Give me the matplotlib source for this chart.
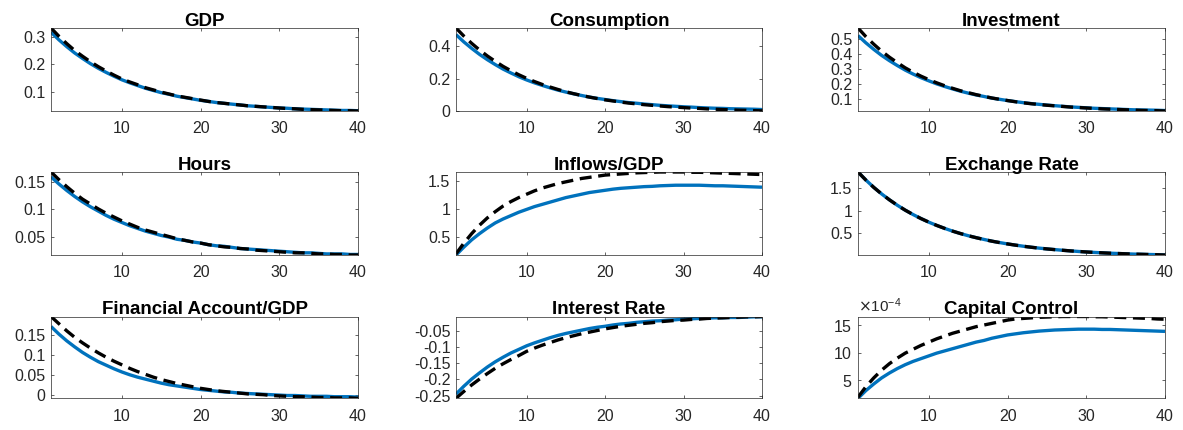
import matplotlib
matplotlib.use("Agg")
import matplotlib.pyplot as plt
from matplotlib.ticker import FuncFormatter, ScalarFormatter

plt.rcParams["font.family"] = ["Liberation Sans", "DejaVu Sans"]
plt.rcParams["axes.unicode_minus"] = False

# Impulse responses, periods 1..40
periods = list(range(1, 41))

gdp_opt = [.318, .290, .265, .242, .222, .203, .186, .171, .157, .144,
           .133, .123, .113, .105, .097, .091, .084, .079, .074, .069,
           .065, .061, .058, .055, .052, .049, .047, .045, .043, .041,
           .040, .038, .037, .036, .035, .034, .033, .032, .032, .031]
gdp_alt = [.333, .303, .276, .251, .230, .210, .192, .176, .161, .147,
           .136, .126, .115, .107, .099, .092, .085, .080, .075, .070,
           .065, .061, .058, .055, .052, .049, .047, .045, .043, .041,
           .039, .038, .036, .035, .034, .033, .032, .031, .031, .030]

cons_opt = [.472, .427, .387, .350, .317, .287, .259, .235, .212, .192,
            .174, .158, .143, .129, .117, .106, .096, .086, .078, .071,
            .064, .058, .052, .048, .043, .039, .035, .032, .029, .026,
            .024, .021, .019, .017, .016, .014, .013, .012, .011, .009]
cons_alt = [.513, .463, .418, .377, .340, .307, .276, .249, .224, .202,
            .182, .164, .148, .133, .119, .107, .096, .086, .077, .069,
            .062, .055, .049, .044, .039, .035, .031, .027, .024, .021,
            .018, .016, .013, .011, .009, .007, .005, .004, .002, .001]

inv_opt = [.520, .472, .429, .389, .354, .322, .292, .266, .242, .221,
           .201, .184, .168, .153, .140, .128, .118, .107, .099, .091,
           .084, .077, .071, .066, .061, .057, .053, .049, .046, .043,
           .040, .038, .036, .034, .032, .030, .029, .028, .027, .025]
inv_alt = [.570, .513, .463, .417, .377, .341, .307, .278, .252, .229,
           .208, .189, .172, .156, .143, .130, .119, .108, .099, .091,
           .083, .076, .070, .065, .060, .056, .052, .048, .045, .042,
           .039, .036, .034, .032, .030, .028, .026, .025, .024, .022]

hours_opt = [.160, .147, .135, .124, .114, .105, .097, .089, .082, .076,
             .070, .065, .060, .056, .052, .049, .045, .043, .040, .038,
             .035, .033, .032, .030, .028, .027, .026, .025, .024, .023,
             .022, .021, .020, .020, .019, .018, .018, .018, .017, .017]
hours_alt = [.169, .155, .142, .130, .119, .110, .101, .093, .086, .079,
             .073, .067, .062, .058, .054, .050, .046, .043, .040, .038,
             .035, .033, .031, .030, .028, .027, .025, .024, .023, .022,
             .021, .020, .020, .019, .018, .018, .017, .017, .016, .016]

inflows_opt = [.18, .32, .45, .56, .66, .75, .82, .88, .94, .99,
               1.04, 1.08, 1.12, 1.16, 1.20, 1.23, 1.26, 1.29, 1.31, 1.33,
               1.35, 1.365, 1.375, 1.385, 1.395, 1.40, 1.41, 1.415, 1.42, 1.42,
               1.42, 1.42, 1.415, 1.41, 1.41, 1.405, 1.40, 1.395, 1.39, 1.385]
inflows_alt = [.20, .39, .56, .71, .84, .95, 1.05, 1.13, 1.20, 1.26,
               1.32, 1.37, 1.41, 1.45, 1.48, 1.51, 1.54, 1.56, 1.58, 1.60,
               1.61, 1.62, 1.63, 1.64, 1.645, 1.65, 1.655, 1.655, 1.655, 1.655,
               1.65, 1.65, 1.645, 1.64, 1.635, 1.63, 1.625, 1.62, 1.615, 1.61]

er_opt = [1.850, 1.673, 1.512, 1.367, 1.236, 1.117, 1.009, .912, .824, .744,
          .673, .608, .548, .494, .446, .403, .364, .326, .295, .265,
          .239, .214, .192, .173, .155, .140, .125, .112, .099, .088,
          .078, .069, .061, .054, .048, .041, .037, .032, .028, .022]
er_alt = [1.850, 1.672, 1.511, 1.366, 1.236, 1.117, 1.009, .912, .824, .745,
          .673, .608, .548, .495, .446, .403, .363, .326, .294, .265,
          .238, .214, .192, .172, .155, .139, .125, .111, .099, .088,
          .078, .069, .061, .054, .047, .041, .036, .031, .026, .021]

fa_opt = [.171, .152, .135, .120, .106, .094, .083, .074, .065, .057,
          .050, .044, .039, .034, .029, .025, .022, .019, .016, .013,
          .011, .009, .007, .006, .004, .003, .002, .001, .000, -.001,
          -.002, -.002, -.003, -.004, -.004, -.004, -.005, -.005, -.005, -.006]
fa_alt = [.196, .178, .160, .144, .130, .117, .105, .094, .084, .075,
          .066, .058, .051, .044, .038, .033, .028, .024, .020, .016,
          .013, .010, .008, .006, .004, .002, .001, .000, -.002, -.003,
          -.004, -.005, -.005, -.006, -.007, -.007, -.008, -.008, -.008, -.009]

rate_opt = [-.245, -.221, -.199, -.180, -.162, -.146, -.132, -.119, -.108, -.097,
            -.088, -.080, -.072, -.065, -.059, -.054, -.049, -.044, -.040, -.037,
            -.033, -.030, -.028, -.025, -.023, -.021, -.020, -.018, -.017, -.015,
            -.014, -.013, -.012, -.011, -.011, -.010, -.010, -.009, -.008, -.008]
rate_alt = [-.258, -.237, -.217, -.199, -.182, -.166, -.152, -.139, -.127, -.114,
            -.104, -.095, -.087, -.079, -.072, -.066, -.060, -.055, -.050, -.045,
            -.041, -.037, -.034, -.031, -.028, -.026, -.023, -.021, -.019, -.018,
            -.016, -.015, -.013, -.012, -.011, -.010, -.009, -.008, -.008, -.007]

# capital control tax, in units of 1e-4
cc_opt = [1.7, 3.1, 4.3, 5.4, 6.3, 7.1, 7.8, 8.4, 8.9, 9.4,
          9.9, 10.3, 10.7, 11.1, 11.5, 11.9, 12.2, 12.6, 12.9, 13.2,
          13.4, 13.6, 13.75, 13.9, 14.0, 14.1, 14.15, 14.2, 14.25, 14.25,
          14.25, 14.2, 14.2, 14.15, 14.1, 14.05, 14.0, 13.95, 13.9, 13.85]
cc_alt = [1.9, 3.8, 5.4, 6.8, 8.0, 9.0, 9.9, 10.6, 11.3, 11.9,
          12.5, 13.0, 13.5, 13.9, 14.3, 14.7, 15.0, 15.3, 15.6, 15.9,
          16.1, 16.2, 16.3, 16.4, 16.45, 16.5, 16.55, 16.55, 16.55, 16.55,
          16.5, 16.5, 16.45, 16.4, 16.35, 16.3, 16.25, 16.2, 16.1, 16.05]
CC_UNIT = 1e-4

titles = ["GDP", "Consumption", "Investment",
          "Hours", "Inflows/GDP", "Exchange Rate",
          "Financial Account/GDP", "Interest Rate", "Capital Control"]
series = [(gdp_opt, gdp_alt), (cons_opt, cons_alt), (inv_opt, inv_alt),
          (hours_opt, hours_alt), (inflows_opt, inflows_alt), (er_opt, er_alt),
          (fa_opt, fa_alt), (rate_opt, rate_alt),
          ([v * CC_UNIT for v in cc_opt], [v * CC_UNIT for v in cc_alt])]
yticks = [[0.1, 0.2, 0.3], [0, 0.2, 0.4], [0.1, 0.2, 0.3, 0.4, 0.5],
          [0.05, 0.1, 0.15], [0.5, 1, 1.5], [0.5, 1, 1.5],
          [0, 0.05, 0.1, 0.15], [-0.25, -0.2, -0.15, -0.1, -0.05],
          [5 * CC_UNIT, 10 * CC_UNIT, 15 * CC_UNIT]]
xticks = [10, 20, 30, 40]

W, H = 1183, 430
fig = plt.figure(figsize=(W / 100, H / 100), dpi=100)
fig.patch.set_facecolor("white")

col_x = [(51, 358), (456, 762), (858, 1165)]
row_y = [(28, 111), (172, 255), (316.5, 398.3)]

BLUE = "#0072BD"
AXC = "#262626"

for i, (title, (opt, alt), yt) in enumerate(zip(titles, series, yticks)):
    r, c = divmod(i, 3)
    x0, x1 = col_x[c]
    y0, y1 = row_y[r]
    ax = fig.add_axes([x0 / W, 1 - y1 / H, (x1 - x0) / W, (y1 - y0) / H])
    ax.plot(periods, opt, color=BLUE, lw=2.4, solid_capstyle="butt")
    ax.plot(periods, alt, color="black", lw=2.4, dashes=(3.6, 2.0),
            dash_capstyle="butt")
    lo = min(min(opt), min(alt))
    hi = max(max(opt), max(alt))
    ax.set_xlim(1, 40)
    ax.set_ylim(lo, hi)
    ax.set_xticks(xticks)
    ax.set_yticks(yt)
    if title == "Capital Control":
        fmt = ScalarFormatter(useMathText=True)
        fmt.set_powerlimits((-4, -4))
        ax.yaxis.set_major_formatter(fmt)
        off = ax.yaxis.get_offset_text()
        off.set_fontsize(11)
        off.set_color(AXC)
    else:
        ax.yaxis.set_major_formatter(FuncFormatter(lambda v, p: "%g" % v))
    ax.tick_params(direction="in", length=2.5, width=0.5, top=True,
                   right=True, labelsize=11.5, colors=AXC)
    ax.tick_params(axis="x", pad=7.5)
    ax.tick_params(axis="y", pad=4)
    for s in ax.spines.values():
        s.set_linewidth(0.5)
        s.set_color(AXC)
    ax.set_title(title, fontsize=13.5, fontweight="bold", pad=1.5)

fig.savefig("out.png", dpi=100, facecolor="white")
